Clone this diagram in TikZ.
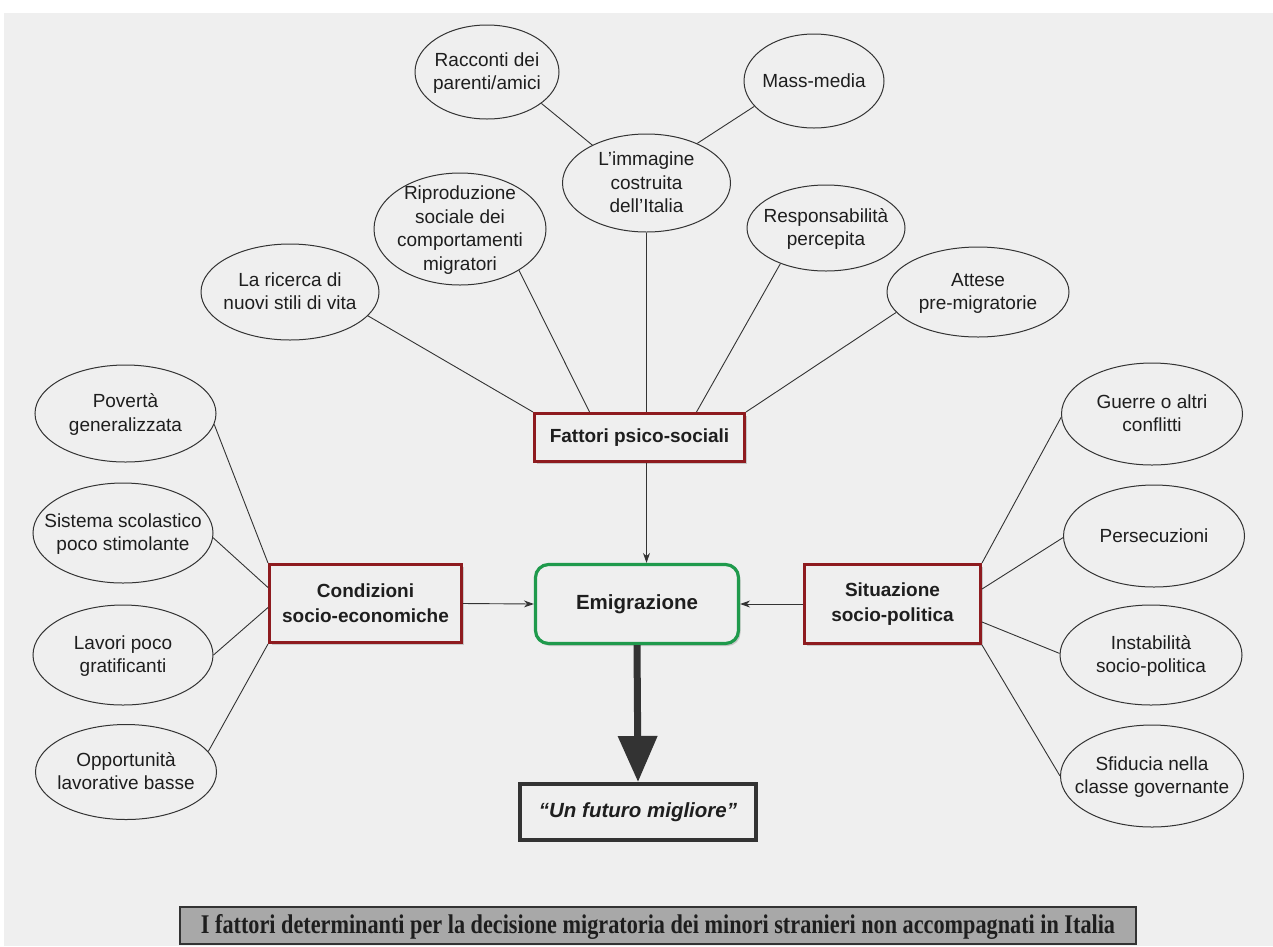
\documentclass[tikz,border=0pt]{standalone}
\usepackage{fontspec}
\setmainfont{Liberation Sans}
\newfontfamily\capfont{Liberation Serif}
\usetikzlibrary{arrows.meta,shapes.geometric,shadows,calc}
\definecolor{pagebg}{HTML}{EFEFEF}
\definecolor{boxred}{HTML}{8E1B1F}
\definecolor{boxgreen}{HTML}{1F9A4C}
\definecolor{ink}{HTML}{1E1E1E}
\definecolor{linec}{HTML}{333333}
\definecolor{capgray}{HTML}{A8A8A8}
\newcommand{\ovtext}[1]{\smash{\makebox[0pt]{\raisebox{-0.3em}{\begin{tabular}{@{}c@{}}#1\end{tabular}}}}}
\tikzset{
  oval/.style={ellipse, draw=linec, line width=1pt, inner sep=0pt,
    text=ink, font=\fontsize{19}{23.5}\selectfont},
  keybox/.style={rectangle, draw=boxred, line width=3pt, fill=pagebg, inner sep=0pt,
    align=center, text=ink, font=\bfseries\fontsize{19}{25}\selectfont,
    drop shadow={shadow xshift=2pt, shadow yshift=-2.5pt, opacity=0.35}},
  emibox/.style={rectangle, rounded corners=13pt, draw=boxgreen, line width=3.2pt, fill=pagebg,
    inner sep=0pt, text=ink, font=\bfseries\fontsize{20.5}{25}\selectfont,
    drop shadow={shadow xshift=2pt, shadow yshift=-2.5pt, opacity=0.35}},
  futbox/.style={rectangle, draw=linec, line width=4pt, fill=pagebg, inner sep=0pt,
    text=ink, font=\bfseries\itshape\fontsize{20.5}{25}\selectfont},
  capbox/.style={rectangle, draw=linec, line width=1.2pt, fill=capgray, inner sep=0pt,
    text=ink, text height=19pt, text depth=4pt},
  conn/.style={draw=linec, line width=0.9pt},
  arr/.style={draw=linec, line width=0.9pt, -{Stealth[length=10pt,width=7pt]}},
  bigarr/.style={draw=linec, line width=7pt, -{Triangle[length=46pt,width=38pt]}}
}
\begin{document}
\begin{tikzpicture}[x=1pt,y=-1pt]
\useasboundingbox (0,0) rectangle (1273,946);
\fill[white] (0,0) rectangle (1273,946);
\fill[pagebg] (4,13) rectangle (1273,946);

% top ellipses
\node[oval, minimum width=144pt, minimum height=94pt] (rac) at (487,72) {\ovtext{Racconti dei\\parenti/amici}};
\node[oval, minimum width=140pt, minimum height=94pt] (mass) at (814,81) {\ovtext{Mass-media}};
\node[oval, minimum width=168pt, minimum height=98pt] (img) at (646.5,183) {\ovtext{L’immagine\\costruita\\dell’Italia}};
\node[oval, minimum width=172pt, minimum height=112pt] (rip) at (460,229) {\ovtext{Riproduzione\\sociale dei\\comportamenti\\migratori}};
\node[oval, minimum width=158pt, minimum height=86pt] (resp) at (826,228) {\ovtext{Responsabilità\\percepita}};
\node[oval, minimum width=178pt, minimum height=96pt] (ric) at (290,292) {\ovtext{La ricerca di\\nuovi stili di vita}};
\node[oval, minimum width=182pt, minimum height=90pt] (att) at (978,292) {\ovtext{Attese\\pre-migratorie}};

% left ellipses
\node[oval, minimum width=181pt, minimum height=97pt] (pov) at (125.5,413.5) {\ovtext{Povertà\\generalizzata}};
\node[oval, minimum width=180pt, minimum height=100pt] (sis) at (123,533) {\ovtext{Sistema scolastico\\poco stimolante}};
\node[oval, minimum width=180pt, minimum height=100pt] (lav) at (123,655) {\ovtext{Lavori poco\\gratificanti}};
\node[oval, minimum width=181pt, minimum height=95pt] (opp) at (126,772) {\ovtext{Opportunità\\lavorative basse}};

% right ellipses
\node[oval, minimum width=181pt, minimum height=102pt] (gue) at (1152,414) {\ovtext{Guerre o altri\\conflitti}};
\node[oval, minimum width=181pt, minimum height=102pt] (per) at (1154,536) {\ovtext{Persecuzioni}};
\node[oval, minimum width=182pt, minimum height=100pt] (ins) at (1151,655) {\ovtext{Instabilità\\socio-politica}};
\node[oval, minimum width=183pt, minimum height=102pt] (sfi) at (1152,776) {\ovtext{Sfiducia nella\\classe governante}};

% boxes
\node[keybox, minimum width=210pt, minimum height=48pt] (fat) at (639.5,437.5) {Fattori psico-sociali};
\node[keybox, minimum width=192pt, minimum height=78pt] (cond) at (365.5,603.5) {Condizioni\\socio-economiche};
\node[emibox, minimum width=203pt, minimum height=79pt] (emi) at (637,604) {Emigrazione};
\node[keybox, minimum width=176pt, minimum height=79pt] (sit) at (892.5,604) {Situazione\\socio-politica};
\node[futbox, minimum width=236pt, minimum height=56pt] (fut) at (638,812) {“Un futuro migliore”};

% caption
\node[capbox, minimum width=956pt, minimum height=37pt] (cap) at (658,925.5)
  {\resizebox{914pt}{19pt}{\capfont\bfseries I fattori determinanti per la decisione migratoria dei minori stranieri non accompagnati in Italia}};

% top connectors
\draw[conn] (rac.-30) -- (img.145);
\draw[conn] (mass.203) -- (img.38);
\draw[conn] (img.south) -- (img.south |- fat.north);
\draw[conn] (rip.-35) -- ([xshift=-50pt]fat.north);
\draw[conn] (ric.-17) -- (fat.north west);
\draw[conn] (resp.218) -- ([xshift=57pt]fat.north);
\draw[conn] (att.194) -- (fat.north east);

% left connectors
\draw[conn] (pov.-7) -- (cond.north west);
\draw[conn] (sis.-3) -- ([yshift=16pt]cond.west);
\draw[conn] (lav.east) -- ([yshift=-4pt]cond.west);
\draw[conn] (opp.14) -- (cond.south west);

% right connectors
\draw[conn] (gue.182) -- (sit.north east);
\draw[conn] (per.181) -- ([yshift=15pt]sit.east);
\draw[conn] (ins.179) -- ([yshift=-18pt]sit.east);
\draw[conn] (sfi.west) -- (sit.south east);

% arrows to Emigrazione
\draw[arr] (fat.south -| img.south) -- (emi.north -| img.south);
\draw[arr] (cond.east) -- (emi.west);
\draw[arr] (sit.west) -- (emi.east);
\draw[bigarr] (emi.south) -- (fut.north);
\end{tikzpicture}
\end{document}
